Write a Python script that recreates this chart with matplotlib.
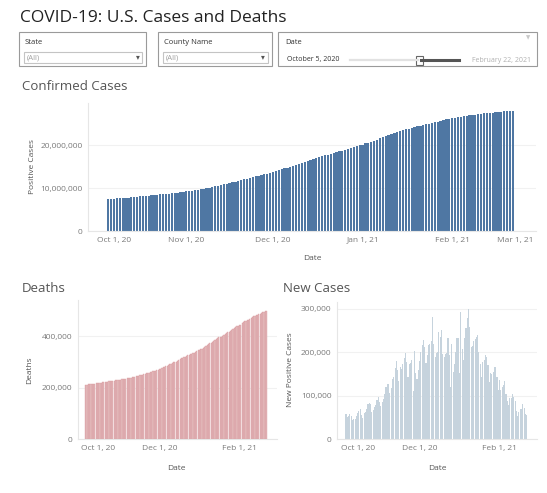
import matplotlib
matplotlib.use('Agg')
import matplotlib.pyplot as plt
from matplotlib.patches import Rectangle
from matplotlib.ticker import FuncFormatter
import pandas as pd

W, H = 547, 493
plt.rcParams['font.family'] = ['Open Sans', 'DejaVu Sans']

# one value per day, Oct 5 2020 .. Feb 22 2021
dates = pd.date_range('2020-10-05', '2021-02-22', freq='D')

# cumulative confirmed cases, thousands
confirmed_k = [
    7448, 7498, 7552, 7609, 7661, 7705, 7752,
    7797, 7849, 7909, 7973, 8042, 8098, 8146,
    8206, 8268, 8338, 8418, 8502, 8582, 8644,
    8712, 8786, 8865, 8955, 9053, 9139, 9215,
    9301, 9394, 9498, 9619, 9747, 9873, 9978,
    10096, 10235, 10379, 10542, 10723, 10882, 11016,
    11182, 11344, 11516, 11703, 11901, 12078, 12220,
    12393, 12568, 12750, 12860, 13064, 13217, 13356,
    13516, 13696, 13896, 14113, 14341, 14554, 14730,
    14923, 15139, 15359, 15585, 15866, 16084, 16273,
    16472, 16673, 16920, 17155, 17406, 17602, 17790,
    17986, 18185, 18417, 18610, 18730, 18949, 19103,
    19276, 19476, 19708, 19942, 20095, 20387, 20595,
    20778, 21011, 21267, 21547, 21847, 22105, 22318,
    22533, 22760, 22990, 23225, 23466, 23667, 23839,
    23981, 24158, 24341, 24534, 24724, 24895, 25026,
    25178, 25328, 25483, 25650, 25817, 25959, 26072,
    26208, 26322, 26443, 26567, 26701, 26804, 26892,
    26970, 27065, 27160, 27263, 27361, 27448, 27512,
    27565, 27627, 27696, 27766, 27846, 27918, 27975,
    28031,
]

# cumulative deaths, thousands
deaths_k = [
    210.2, 210.9, 211.8, 212.7, 213.6, 214.3, 214.7,
    215.1, 215.8, 216.8, 217.7, 218.6, 219.3, 219.7,
    220.2, 221.1, 222.2, 223.0, 224.0, 224.9, 225.3,
    225.8, 226.8, 227.8, 228.8, 229.8, 230.6, 231.0,
    231.6, 232.7, 233.8, 235.0, 236.2, 237.2, 237.7,
    238.4, 239.9, 241.3, 242.6, 244.0, 245.3, 245.9,
    246.8, 248.4, 250.3, 252.3, 254.2, 255.7, 256.6,
    257.5, 259.7, 262.1, 263.3, 264.6, 265.8, 266.6,
    267.8, 270.4, 273.2, 276.0, 278.6, 281.0, 282.2,
    283.6, 286.4, 289.6, 292.5, 295.3, 297.7, 299.0,
    300.5, 303.5, 307.1, 310.2, 313.1, 315.6, 317.0,
    318.8, 322.1, 325.5, 328.2, 329.6, 331.0, 332.3,
    334.2, 337.9, 341.6, 344.9, 346.8, 349.2, 350.6,
    352.5, 356.3, 360.3, 364.4, 368.3, 371.6, 373.4,
    375.2, 379.6, 383.6, 387.5, 391.3, 394.6, 396.4,
    397.8, 400.5, 404.5, 408.6, 412.1, 415.2, 417.2,
    419.2, 423.2, 427.1, 431.1, 434.7, 437.9, 439.5,
    441.3, 444.8, 448.9, 452.9, 456.5, 459.3, 461.1,
    462.8, 466.0, 469.4, 473.3, 477.0, 479.7, 481.0,
    482.1, 484.2, 486.8, 489.9, 492.7, 494.6, 496.4,
    498.0,
]

# new positive cases per day, thousands
new_cases_k = [
    58, 50, 54, 57, 52, 44, 47,
    45, 52, 60, 64, 69, 56, 48,
    60, 62, 70, 80, 84, 80, 62,
    68, 74, 79, 90, 98, 86, 76,
    86, 93, 104, 121, 128, 126, 105,
    118, 139, 144, 163, 181, 159, 134,
    166, 162, 172, 187, 198, 177, 142,
    173, 175, 182, 110, 204, 153, 139,
    160, 180, 200, 217, 228, 213, 176,
    193, 216, 220, 226, 281, 218, 189,
    199, 201, 247, 235, 251, 196, 188,
    196, 199, 232, 193, 120, 219, 154,
    173, 200, 232, 234, 153, 292, 208,
    183, 233, 256, 280, 300, 258, 213,
    215, 227, 230, 235, 241, 201, 172,
    142, 177, 183, 193, 190, 171, 131,
    152, 150, 155, 167, 167, 142, 113,
    136, 114, 121, 124, 134, 103, 88,
    78, 95, 95, 103, 98, 87, 64,
    53, 62, 69, 70, 80, 72, 57,
    56,
]

fig = plt.figure(figsize=(W / 100, H / 100), dpi=100)


def fx(x):
    return x / W


def fy(y):
    return 1 - y / H


def px_axes(x0, y0, x1, y1):
    return fig.add_axes([fx(x0), fy(y1), (x1 - x0) / W, (y1 - y0) / H])


def ptext(x, y, s, **kw):
    kw.setdefault('va', 'center')
    return fig.text(fx(x), fy(y), s, **kw)


def box(x0, y0, x1, y1, ec, lw=0.8, fc='none'):
    fig.patches.append(Rectangle((fx(x0), fy(y1)), (x1 - x0) / W, (y1 - y0) / H,
                                 transform=fig.transFigure, ec=ec, fc=fc, lw=lw))


def date_label(d):
    return f"{d:%b} {d.day}, {d:%y}"


def style(ax, ticks, xmin, xmax, ymax, yticks):
    for s in ('top', 'right'):
        ax.spines[s].set_visible(False)
    for s in ('left', 'bottom'):
        ax.spines[s].set_color('#e6e6e6')
        ax.spines[s].set_linewidth(0.8)
    ax.set_xlim(pd.Timestamp(xmin), pd.Timestamp(xmax))
    ax.set_ylim(0, ymax)
    ax.set_yticks(yticks)
    ax.yaxis.set_major_formatter(FuncFormatter(lambda v, p: f"{v:,.0f}"))
    tk = [pd.Timestamp(t) for t in ticks]
    ax.set_xticks(tk)
    ax.set_xticklabels([date_label(t) for t in tk])
    ax.tick_params(length=0, labelsize=6, labelcolor='#7a7a7a', pad=4)
    ax.grid(axis='y', color='#f1f1f1', lw=0.8)
    ax.set_axisbelow(True)
    labels = ax.get_xticklabels()
    labels[0].set_horizontalalignment('left')
    if tk[-1] > pd.Timestamp(dates[-1]) + pd.Timedelta(days=3):
        labels[-1].set_horizontalalignment('right')


# header
ptext(20, 18, 'COVID-19: U.S. Cases and Deaths', fontsize=12.5, color='#222222')

box(19, 32, 146, 66, '#9a9a9a')
ptext(25, 43, 'State', fontsize=5.5, color='#333333')
box(24, 52, 142, 63, '#c4c4c4')
ptext(27, 58, '(All)', fontsize=5.5, color='#a0a0a0')
ptext(138, 58, '\u25be', fontsize=5.5, color='#555555', ha='center')

box(158, 32, 272, 66, '#9a9a9a')
ptext(164, 43, 'County Name', fontsize=5.5, color='#333333')
box(163, 52, 268, 63, '#c4c4c4')
ptext(166, 58, '(All)', fontsize=5.5, color='#a0a0a0')
ptext(263, 58, '\u25be', fontsize=5.5, color='#555555', ha='center')

box(278, 32, 537, 66, '#9a9a9a')
ptext(285, 43, 'Date', fontsize=5.5, color='#333333')
ptext(287, 60, 'October 5, 2020', fontsize=5, color='#333333')
fig.add_artist(plt.Line2D([fx(350), fx(418)], [fy(60), fy(60)], color='#e2e2e2', lw=1.6))
fig.add_artist(plt.Line2D([fx(421), fx(459)], [fy(60), fy(60)], color='#555555', lw=2.2))
box(416, 56, 423, 65, '#666666', lw=0.8, fc='white')
ptext(531, 60, 'February 22, 2021', fontsize=5, color='#b0b0b0', ha='right')
ptext(528, 38, '\u25bc', fontsize=4, color='#c8c8c8', ha='center')

# confirmed cases
ptext(22, 87, 'Confirmed Cases', fontsize=9.5, color='#555555')
ax1 = px_axes(88, 103, 536, 231)
ax1.bar(dates, [v * 1000 for v in confirmed_k], width=0.78, color='#4f77a3')
style(ax1, ['2020-10-01', '2020-11-01', '2020-12-01', '2021-01-01', '2021-02-01', '2021-03-01'],
      '2020-09-28', '2021-03-02', 29.8e6, [0, 10e6, 20e6])
ptext(32, 167, 'Positive Cases', fontsize=6, color='#555555', rotation=90, ha='center')
ptext(312, 258, 'Date', fontsize=6, color='#555555', ha='center')

# deaths
ptext(22, 288, 'Deaths', fontsize=9.5, color='#555555')
ax2 = px_axes(78, 300, 277, 439)
ax2.bar(dates, [v * 1000 for v in deaths_k], width=0.9, color='#e4bcbe',
        edgecolor='#d7959a', linewidth=0.25)
style(ax2, ['2020-10-01', '2020-12-01', '2021-02-01'],
      '2020-09-29', '2021-03-02', 540e3, [0, 200e3, 400e3])
ptext(30, 370, 'Deaths', fontsize=6, color='#555555', rotation=90, ha='center')
ptext(176, 468, 'Date', fontsize=6, color='#555555', ha='center')

# new cases
ptext(283, 288, 'New Cases', fontsize=9.5, color='#555555')
ax3 = px_axes(337, 302, 537, 439)
ax3.bar(dates, [v * 1000 for v in new_cases_k], width=0.85, color='#c6d3dd')
style(ax3, ['2020-10-01', '2020-12-01', '2021-02-01'],
      '2020-09-28', '2021-03-02', 316e3, [0, 100e3, 200e3, 300e3])
ptext(290, 370, 'New Positive Cases', fontsize=6, color='#555555', rotation=90, ha='center')
ptext(437, 468, 'Date', fontsize=6, color='#555555', ha='center')

fig.savefig('out.png', dpi=100)
